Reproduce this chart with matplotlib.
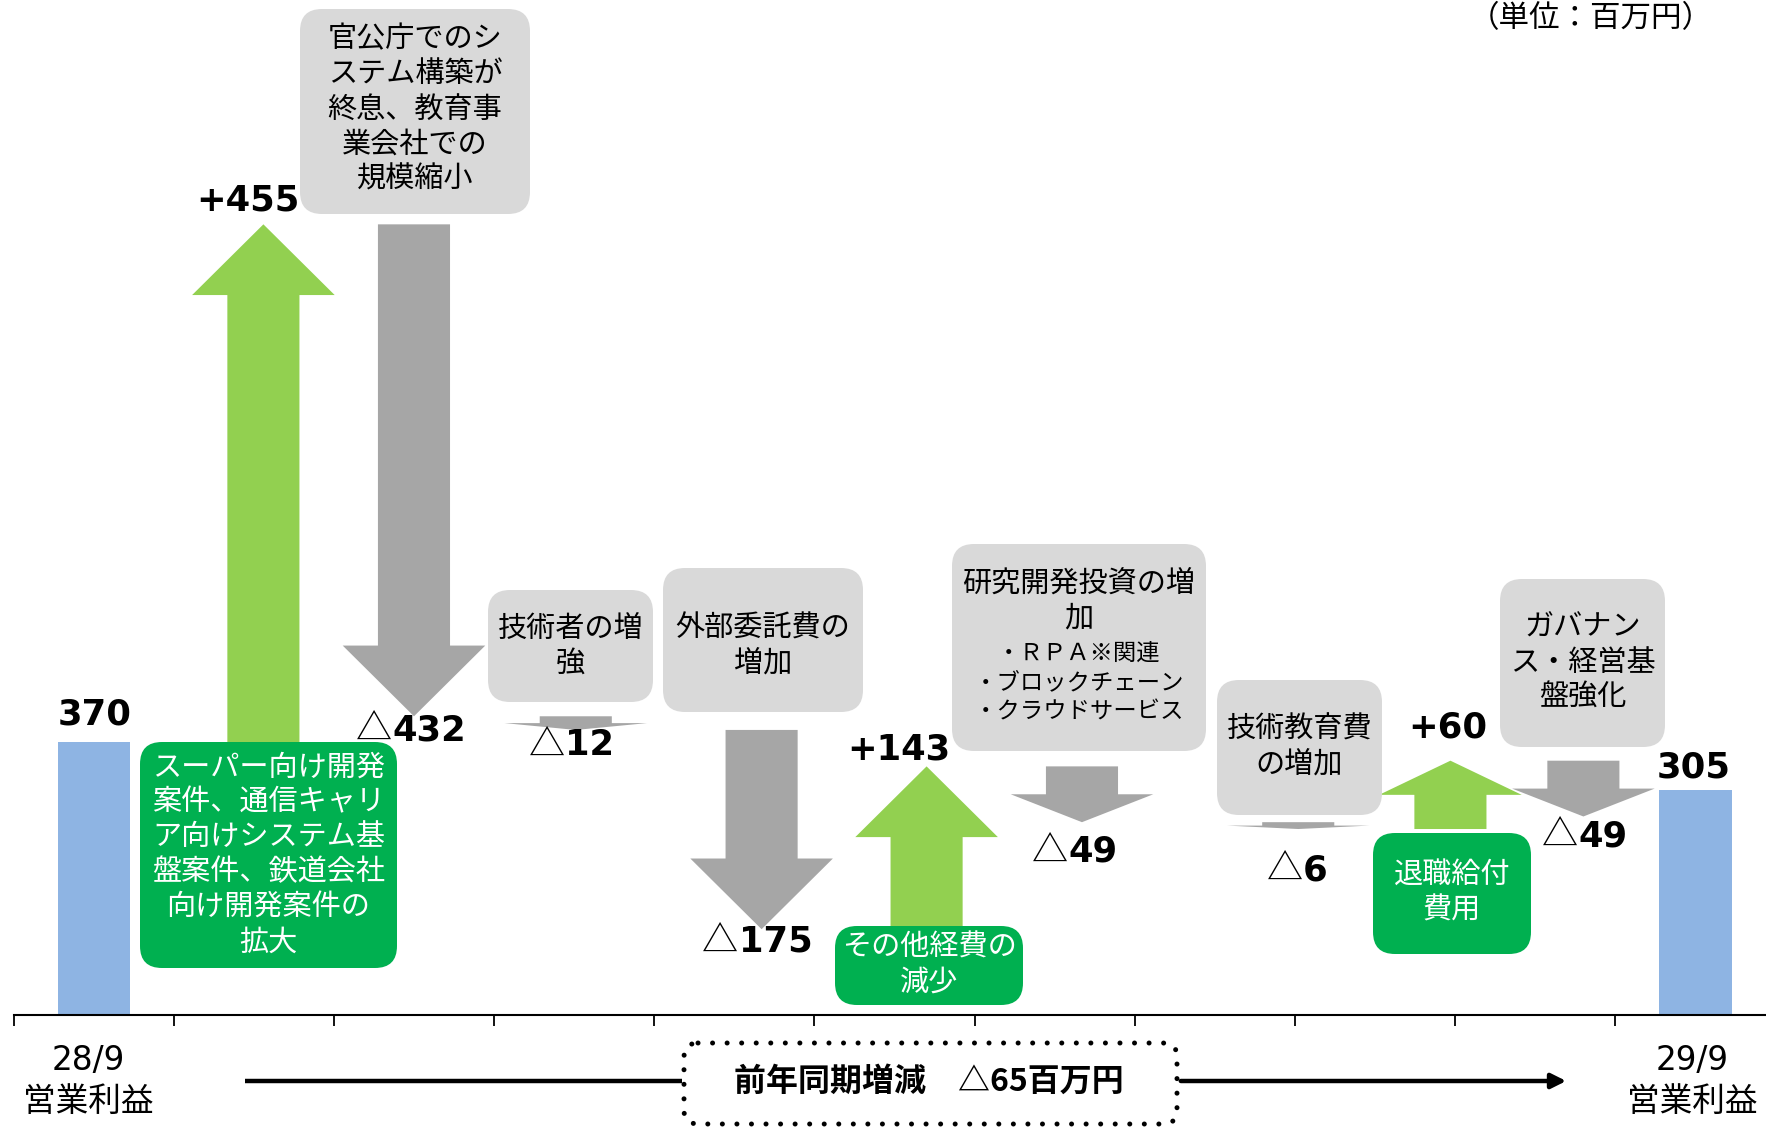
import matplotlib
matplotlib.use('Agg')
import matplotlib.pyplot as plt
from matplotlib.patches import FancyArrow, FancyBboxPatch

plt.rcParams['font.family'] = ['Noto Sans CJK JP', 'DejaVu Sans']

# Datos (百万円)
inicio = 370
final = 305
cambios = [455, -432, -12, -175, 143, -49, -6, 60, -49]
etiqueta_inicio = '28/9\n営業利益'
etiqueta_final = '29/9\n営業利益'
total_texto = '前年同期増減　△65百万円'
unidad = '（単位：百万円）'

# Posicion horizontal de cada flecha (en categorias)
pos_flechas = [1.06, 2.0, 3.01, 4.17, 5.2, 6.17, 7.52, 8.47, 9.3]
# desplazamiento de la etiqueta de cada flecha (puntos)
desp_etiquetas = [(-11, 19.5), (-2, -8), (-3, -9), (-3, -7), (-20, 14),
                  (-5, -19), (-1, -27.5), (-2, 26), (1, -12)]

K = 1.546          # escala de las flechas respecto a las barras
AZUL = '#8EB4E3'
VERDE_CLARO = '#92D050'
GRIS = '#A6A6A6'
VERDE = '#00B050'
GRIS_CAJA = '#D9D9D9'

fig = plt.figure(figsize=(17.66, 11.29), dpi=100)
ax = fig.add_axes([13.5 / 1766, 114 / 1129, (1766 - 13.5) / 1766, 1015 / 1129])
ax.set_xlim(-0.5, 10.44)
ax.set_ylim(0, 1378)
ax.patch.set_alpha(0)
for s in ['top', 'left', 'right']:
    ax.spines[s].set_visible(False)
ax.spines['bottom'].set_linewidth(1.5)
ax.set_yticks([])
ax.set_xticks([i - 0.5 for i in range(11)])
ax.set_xticklabels([])
ax.tick_params(axis='x', length=8, width=1.3, direction='out')

# Barras inicial y final
ax.bar([0, 10], [inicio, final], width=0.45, color=AZUL, zorder=1)


def numero(x, y, texto, dx, dy):
    ax.annotate(texto, (x, y), xytext=(dx, dy - 9.3), textcoords='offset points',
                ha='center', va='baseline', fontsize=25.5, fontweight='bold',
                family='DejaVu Sans')


def etiqueta(x, y, d, dx, dy):
    base = dy - 9.3
    if d < 0:
        num = str(-d)
        w_num = 0.696 * 25.5 * len(num)
        w_tri = 26
        s = dx - (w_tri + w_num) / 2 + w_tri
        ax.annotate('△', (x, y), xytext=(s, base), textcoords='offset points',
                    ha='right', va='baseline', fontsize=26, family='Noto Sans CJK JP')
        ax.annotate(num, (x, y), xytext=(s, base), textcoords='offset points',
                    ha='left', va='baseline', fontsize=25.5, fontweight='bold',
                    family='DejaVu Sans')
    else:
        numero(x, y, f'+{d}', dx, dy)


numero(0, inicio, str(inicio), 1, 22)
numero(10, final, str(final), -1, 18.7)

# Flechas encadenadas
nivel = inicio
for x, d, (dx, dy) in zip(pos_flechas, cambios, desp_etiquetas):
    largo = d * K
    cabeza = min(abs(largo) * 0.5, 96)
    color = VERDE_CLARO if d > 0 else GRIS
    ax.add_patch(FancyArrow(x, nivel, 0, largo, width=0.45, head_width=0.89,
                            head_length=cabeza, length_includes_head=True,
                            color=color, lw=0, zorder=2))
    nivel += largo
    etiqueta(x, nivel, d, dx, dy)

# Capa de anotaciones en pixeles
ov = fig.add_axes([0, 0, 1, 1])
ov.set_xlim(0, 1766)
ov.set_ylim(1129, 0)
ov.axis('off')
ov.patch.set_alpha(0)

# x0, y0, x1, y1, color, texto, ajuste vertical del texto
cajas = [
    (140, 742, 397, 968, VERDE, 'スーパー向け開発\n案件、通信キャリ\nア向けシステム基\n盤案件、鉄道会社\n向け開発案件の\n拡大', 0),
    (300, 9, 530, 214, GRIS_CAJA, '官公庁でのシ\nステム構築が\n終息、教育事\n業会社での\n規模縮小', -2),
    (488, 590, 653, 702, GRIS_CAJA, '技術者の増\n強', 0),
    (663, 568, 863, 712, GRIS_CAJA, '外部委託費の\n増加', 6),
    (952, 544, 1206, 751, GRIS_CAJA, None, 0),
    (1217, 680, 1382, 815, GRIS_CAJA, '技術教育費\nの増加', 0),
    (1373, 833, 1531, 954, VERDE, '退職給付\n費用', 0),
    (1500, 579, 1665, 747, GRIS_CAJA, 'ガバナン\nス・経営基\n盤強化', 0),
    (835, 926, 1023, 1005, VERDE, 'その他経費の\n減少', 0),
]
for x0, y0, x1, y1, col, txt, ty in cajas:
    ov.add_patch(FancyBboxPatch((x0, y0), x1 - x0, y1 - y0,
                                boxstyle='round,pad=0,rounding_size=22',
                                fc=col, ec='none', zorder=3))
    if txt:
        ov.text((x0 + x1) / 2, (y0 + y1) / 2 + ty, txt, ha='center', va='center',
                fontsize=21, color='white' if col == VERDE else 'black',
                linespacing=1.22, zorder=4)

ov.text(1079, 601, '研究開発投資の増\n加', ha='center', va='center', fontsize=21,
        linespacing=1.22, zorder=4)
ov.text(1079, 683, '・ＲＰＡ※関連\n・ブロックチェーン\n・クラウドサービス', ha='center',
        va='center', fontsize=16.8, linespacing=1.36, zorder=4)

# Textos inferiores
ov.text(88, 1081, etiqueta_inicio, ha='center', va='center', fontsize=23.5,
        family=['DejaVu Sans', 'Noto Sans CJK JP'], linespacing=1.3)
ov.text(1692, 1081, etiqueta_final, ha='center', va='center', fontsize=23.5,
        family=['DejaVu Sans', 'Noto Sans CJK JP'], linespacing=1.3)
ov.text(1591, 19, unidad, ha='center', va='center', fontsize=22)

ov.plot([245, 682], [1081, 1081], color='black', lw=3.2, solid_capstyle='butt')
ov.annotate('', xy=(1569, 1081), xytext=(1178, 1081),
            arrowprops=dict(arrowstyle='-|>', lw=3.2, color='black', mutation_scale=22))
marco = FancyBboxPatch((684, 1043), 493, 81, boxstyle='round,pad=0,rounding_size=14',
                       fc='none', ec='black', lw=3.6, linestyle=(0, (0.01, 2.9)))
marco.set_capstyle('round')
ov.add_patch(marco)
ov.text(929, 1082, total_texto, ha='center', va='center', fontsize=23,
        fontweight='bold')

fig.savefig('out.png', dpi=100)
